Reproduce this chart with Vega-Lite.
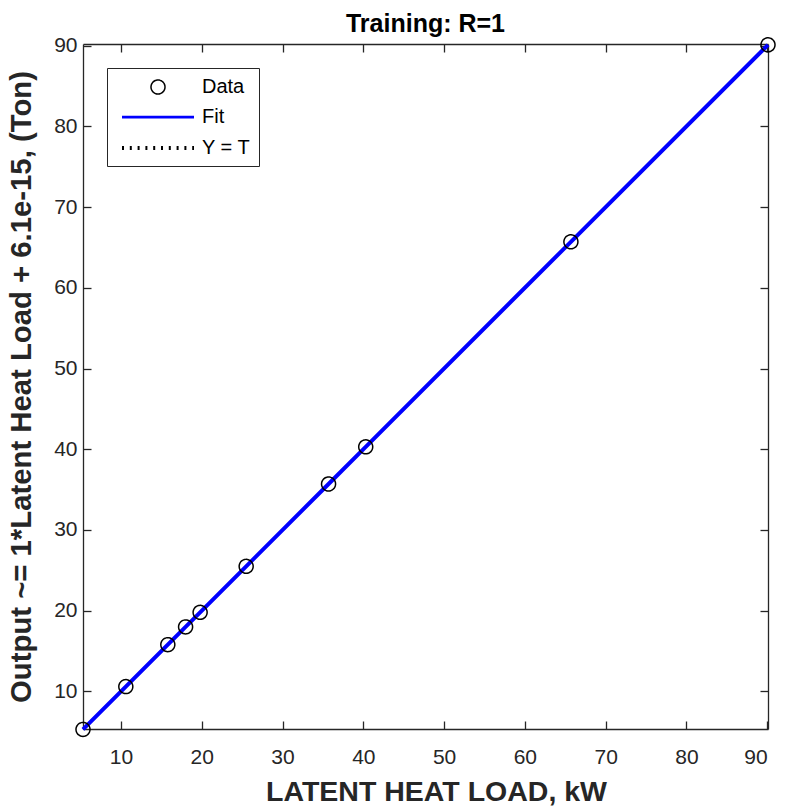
{
  "$schema": "https://vega.github.io/schema/vega-lite/v6.json",
  "autosize": {"type": "none"},
  "padding": {"left": 83, "top": 44, "right": 19, "bottom": 81},
  "width": 685,
  "height": 685,
  "background": "white",
  "title": {"text": "Training: R=1", "font": "Liberation Sans", "fontSize": 25, "fontWeight": "bold", "color": "#000000", "offset": 0, "dy": 2},
  "config": {
    "view": {"stroke": null},
    "axis": {
      "grid": false,
      "domainColor": "#262626",
      "domainWidth": 1.3,
      "tickColor": "#262626",
      "tickWidth": 1.3,
      "tickSize": 8,
      "labelColor": "#262626",
      "labelFont": "Liberation Sans",
      "labelFontSize": 21,
      "titleFont": "Liberation Sans",
      "titleFontWeight": "bold",
      "titleColor": "#262626"
    },
    "legend": {
      "title": null,
      "orient": "top-left",
      "offset": 24,
      "padding": 8,
      "symbolSize": 400,
      "symbolOffset": 31,
      "labelOffset": 32,
      "rowPadding": 8.5,
      "labelFont": "Liberation Sans",
      "labelFontSize": 20,
      "labelColor": "#000000",
      "fillColor": "#ffffff",
      "strokeColor": "#262626",
      "cornerRadius": 0
    }
  },
  "data": {
    "values": [
      {"T": 5.3, "Y": 5.3},
      {"T": 10.6, "Y": 10.6},
      {"T": 15.8, "Y": 15.8},
      {"T": 18.0, "Y": 18.0},
      {"T": 19.8, "Y": 19.8},
      {"T": 25.5, "Y": 25.5},
      {"T": 35.7, "Y": 35.7},
      {"T": 40.3, "Y": 40.3},
      {"T": 65.7, "Y": 65.7},
      {"T": 90.1, "Y": 90.1}
    ]
  },
  "resolve": {"axis": {"x": "independent", "y": "independent"}},
  "layer": [
    {
      "mark": {"type": "line", "color": "#000000", "strokeWidth": 1.5, "strokeDash": [2, 5.6]},
      "encoding": {
        "x": {"field": "T", "type": "quantitative", "scale": {"domain": [5.3, 90.1], "nice": false, "zero": false},
              "axis": {"orient": "bottom", "offset": -685, "labels": false, "title": null, "domain": true, "ticks": true, "values": [10, 20, 30, 40, 50, 60, 70, 80, 90]}},
        "y": {"field": "T", "type": "quantitative", "scale": {"domain": [5.35, 90.2], "nice": false, "zero": false},
              "axis": {"orient": "left", "offset": -685, "labels": false, "title": null, "domain": true, "ticks": true, "values": [10, 20, 30, 40, 50, 60, 70, 80, 90]}}
      }
    },
    {
      "mark": {"type": "line", "color": "#0000ff", "strokeWidth": 4},
      "encoding": {
        "x": {"field": "T", "type": "quantitative",
              "axis": {"orient": "top", "offset": -685, "labels": false, "title": null, "domain": false, "ticks": true, "values": [10, 20, 30, 40, 50, 60, 70, 80, 90]}},
        "y": {"field": "Y", "type": "quantitative",
              "axis": {"orient": "right", "offset": -685, "labels": false, "title": null, "domain": false, "ticks": true, "values": [10, 20, 30, 40, 50, 60, 70, 80, 90]}}
      }
    },
    {
      "mark": {"type": "point", "filled": false, "size": 400, "opacity": 1},
      "encoding": {
        "x": {"field": "T", "type": "quantitative",
              "axis": {"orient": "bottom", "title": "LATENT HEAT LOAD, kW", "titleFontSize": 28.5, "titlePadding": 9.5, "titleX": 353, "ticks": false, "labelPadding": 17.5, "values": [10, 20, 30, 40, 50, 60, 70, 80, 90]}},
        "y": {"field": "Y", "type": "quantitative",
              "axis": {"orient": "left", "title": "Output ~= 1*Latent Heat Load + 6.1e-15, (Ton)", "titleFontSize": 29.3, "titlePadding": 17, "ticks": false, "labelPadding": 6, "values": [10, 20, 30, 40, 50, 60, 70, 80, 90]}},
        "shape": {
          "datum": "Data", "type": "nominal",
          "scale": {
            "domain": ["Data", "Fit", "Y = T"],
            "range": ["M0.7,0A0.7,0.7,0,1,1,-0.7,0A0.7,0.7,0,1,1,0.7,0Z", "M-3.6,0H3.6", "M-3.6,0H3.6"]
          },
          "legend": {"title": null}
        },
        "stroke": {
          "datum": "Data", "type": "nominal",
          "scale": {"domain": ["Data", "Fit", "Y = T"], "range": ["#000000", "#0000ff", "#000000"]},
          "legend": {"title": null}
        },
        "strokeWidth": {
          "datum": "Data", "type": "ordinal",
          "scale": {"domain": ["Data", "Fit", "Y = T"], "range": [1.5, 4, 2]},
          "legend": {"title": null}
        },
        "strokeDash": {
          "datum": "Data", "type": "nominal",
          "scale": {"domain": ["Data", "Fit", "Y = T"], "range": [[1, 0], [1, 0], [2, 5.8]]},
          "legend": {"title": null}
        }
      }
    }
  ]
}
